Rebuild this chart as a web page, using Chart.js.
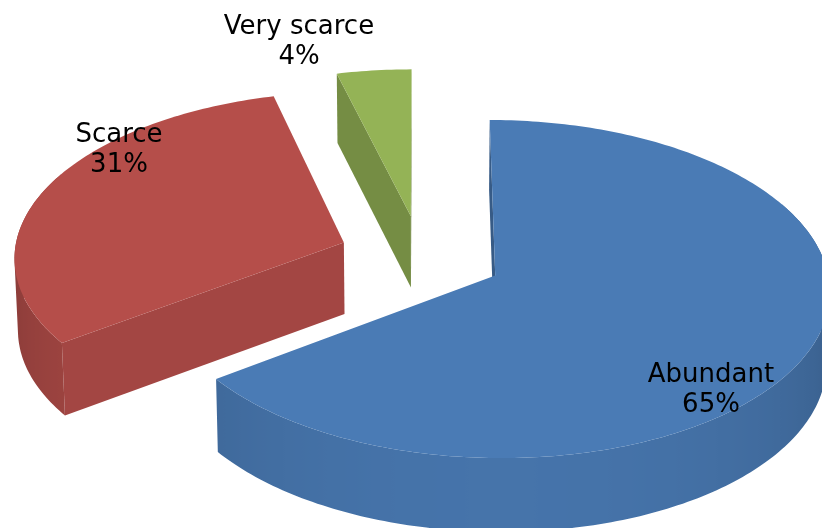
<!DOCTYPE html>
<html>
<head>
<meta charset="utf-8">
<title>Scarcity</title>
<style>
    html, body { margin: 0; background: #ffffff; overflow: hidden; }
    canvas { display: block; }
</style>
<script src="https://cdn.jsdelivr.net/npm/chart.js@4"></script>
</head>
<body>
<canvas id="pieChart" width="822" height="528"></canvas>
<script>
const categories = ['Abundant', 'Scarce', 'Very scarce'];
const shares = [65, 31, 4];
const topColors = ['#4a7bb5', '#b54e4a', '#94b356'];

// where the two label lines sit, centre of the block
const labelSpots = [[711, 390], [119, 150], [299, 42]];

// the look of the 3D pie, found by measuring the reference
const view = { cx: 421, cy: 256.5, rx: 330, ry: 164.9, tilt: 0.08, depth: 71.5, depthGrow: 0.012, lean: 0.0085 };
const explodePx = 58.7;

// pie plane (radius 1) to screen, with a bit of perspective
const project = (u, v) => {
    const w = 1 - view.tilt * v;
    return [view.cx + (view.rx * u) / w, view.cy + (view.ry * v) / w];
};
const lower = ([x, y]) => [
    x + (view.cx - x) * view.lean,
    y + view.depth + (y - view.cy) * view.depthGrow,
];

const shade = (hex, f) => {
    const n = parseInt(hex.slice(1), 16);
    const c = [n >> 16, (n >> 8) & 255, n & 255].map((v) => Math.round(v * f));
    return `rgb(${c[0]}, ${c[1]}, ${c[2]})`;
};
// faces turned to the viewer are lighter
const faceShade = (ny) => 0.74 + 0.2 * Math.max(0, ny);

const tracePoly = (ctx, pts) => {
    pts.forEach(([x, y], i) => (i ? ctx.lineTo(x, y) : ctx.moveTo(x, y)));
    ctx.closePath();
};
const fillPoly = (ctx, pts, color) => {
    ctx.fillStyle = color;
    ctx.beginPath();
    tracePoly(ctx, pts);
    ctx.fill();
};
const signedArea = (pts) => pts.reduce((sum, [x, y], i) => {
    const [nx, ny] = pts[(i + 1) % pts.length];
    return sum + x * ny - nx * y;
}, 0);

const drawSlice = (ctx, arc, color) => {
    const { startAngle, endAngle, outerRadius } = arc;
    const mid = (startAngle + endAngle) / 2;
    const e = arc.options.offset / outerRadius;
    const ou = e * Math.cos(mid);
    const ov = e * Math.sin(mid);
    const apex = project(ou, ov);

    const rim = [];
    const wall = [];
    const steps = Math.ceil(((endAngle - startAngle) * 180) / Math.PI);
    for (let i = 0; i <= steps; i++) {
        const a = startAngle + ((endAngle - startAngle) * i) / steps;
        const p = project(ou + Math.cos(a), ov + Math.sin(a));
        rim.push(p);
        if (Math.sin(a) > -0.45) wall.push({ p, a });
    }

    // cut faces, only the ones turned towards us
    const first = rim[0];
    const last = rim[rim.length - 1];
    const startNy = -Math.cos(startAngle);
    const endNy = Math.cos(endAngle);
    if (startNy > -1e-6) {
        fillPoly(ctx, [apex, first, lower(first), lower(apex)], shade(color, faceShade(startNy)));
    }
    if (endNy > -1e-6) {
        fillPoly(ctx, [apex, last, lower(last), lower(apex)], shade(color, faceShade(endNy)));
    }

    // outer wall, shading runs with the curve on the part facing us
    const lit = wall.filter((s) => Math.sin(s.a) >= 0);
    if (lit.length > 1) {
        const xs = lit.map((s) => s.p[0]);
        const x0 = Math.min(...xs);
        const x1 = Math.max(...xs);
        const grad = ctx.createLinearGradient(x0, 0, x1, 0);
        lit.forEach((s) => {
            grad.addColorStop((s.p[0] - x0) / (x1 - x0), shade(color, faceShade(Math.sin(s.a))));
        });
        // strips in one path, the rim folds back at the far left and right
        ctx.fillStyle = grad;
        ctx.beginPath();
        for (let i = 0; i < wall.length - 1; i++) {
            const a = wall[i].p;
            const b = wall[i + 1].p;
            const quad = [a, b, lower(b), lower(a)];
            tracePoly(ctx, signedArea(quad) < 0 ? quad.reverse() : quad);
        }
        ctx.fill();
    }

    fillPoly(ctx, [apex, ...rim], color);
};

const pie3d = {
    id: 'pie3d',
    beforeDatasetsDraw(chart) {
        const { ctx } = chart;
        const arcs = chart.getDatasetMeta(0).data;
        ctx.save();
        // back slices first
        [2, 1, 0].forEach((i) => drawSlice(ctx, arcs[i], topColors[i]));
        ctx.restore();
        return false;
    },
    afterDraw(chart) {
        const { ctx } = chart;
        ctx.save();
        ctx.font = '26px "DejaVu Sans"';
        ctx.fillStyle = '#000000';
        ctx.textAlign = 'center';
        ctx.textBaseline = 'middle';
        categories.forEach((name, i) => {
            const [x, y] = labelSpots[i];
            ctx.fillText(name, x, y - 15);
            ctx.fillText(`${shares[i]}%`, x, y + 15);
        });
        ctx.restore();
    },
};

new Chart(document.getElementById('pieChart'), {
    type: 'pie',
    data: {
        labels: categories,
        datasets: [{
            data: shares,
            backgroundColor: topColors,
            borderWidth: 0,
            offset: explodePx,
        }],
    },
    options: {
        responsive: false,
        animation: false,
        events: [],
        plugins: {
            legend: { display: false },
            tooltip: { enabled: false },
        },
    },
    plugins: [pie3d],
});
</script>
</body>
</html>
